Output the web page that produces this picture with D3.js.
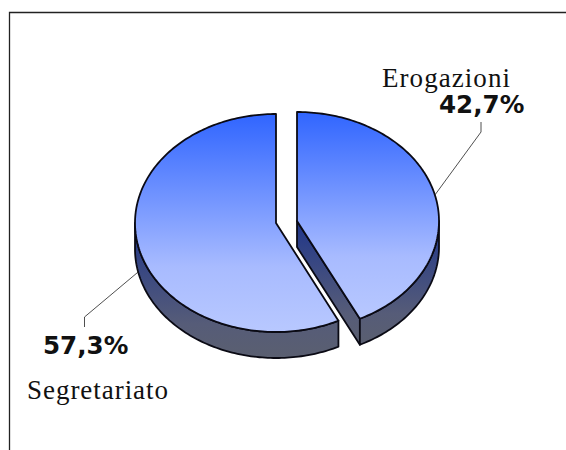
<!DOCTYPE html>
<html>
<head>
<meta charset="utf-8">
<script src="https://cdn.jsdelivr.net/npm/d3@7"></script>
<style>
  html, body { margin: 0; padding: 0; background: #fff; }
  svg { display: block; }
  .name { font-family: "Liberation Serif", serif; font-size: 27px; fill: #111; }
  .pct { font-family: "DejaVu Sans", sans-serif; font-weight: bold; font-size: 24.6px; fill: #111; }
</style>
</head>
<body>
<svg id="chart" width="566" height="450"></svg>
<script>
var categories = ["Erogazioni", "Segretariato"];
var shares = [42.7, 57.3];
var shareLabels = ["42,7%", "57,3%"];

var width = 566, height = 450;
var ry = 109, depth = 26;

// the exploded centre of each slice, unit circle maps through these scales
var centers = [[297, 221], [276, 223]];
var radiiX = [142, 141];
function makeScales(i) {
  var c = centers[i], rx = radiiX[i];
  return {
    x: d3.scaleLinear().domain([-1, 1]).range([c[0] - rx, c[0] + rx]),
    y: d3.scaleLinear().domain([-1, 1]).range([c[1] - ry, c[1] + ry])
  };
}

var svg = d3.select("#chart");
var defs = svg.append("defs");

function gradient(id, stops) {
  var g = defs.append("linearGradient").attr("id", id)
    .attr("x1", 0).attr("y1", 0).attr("x2", 0).attr("y2", 1);
  stops.forEach(function(s) {
    g.append("stop").attr("offset", s[0]).attr("stop-color", s[1]);
  });
}
gradient("topFill", [[0, "#3065ff"], [0.7, "#a8bbff"], [1, "#b8c8ff"]]);
gradient("sideFill", [[0, "#20368a"], [0.75, "#565c78"], [1, "#5a5f70"]]);

var pie = d3.pie().value(function(d) { return d; }).sort(null);
var slices = pie(shares);

var line = d3.line();

// points along the rim between two pie angles (0 = up, clockwise)
function rim(s, a0, a1, dy) {
  var n = Math.max(2, Math.ceil(Math.abs(a1 - a0) / 0.02));
  return d3.range(n + 1).map(function(i) {
    var a = a0 + (a1 - a0) * i / n;
    return [s.x(Math.sin(a)), s.y(-Math.cos(a)) + dy];
  });
}

// frame: top and left only, runs off the page
svg.append("path")
  .attr("d", line([[9.5, height], [9.5, 12.5], [width, 12.5]]))
  .attr("fill", "none").attr("stroke", "#222").attr("stroke-width", 1.3);

function outline(sel) {
  sel.attr("stroke", "#0a0a14").attr("stroke-width", 1.8).attr("stroke-linejoin", "round");
}

slices.forEach(function(d, i) {
  var s = makeScales(i);
  var apex = [s.x(0), s.y(0)];
  var g = svg.append("g").attr("class", "slice");

  // visible part of the outer wall: only where the rim faces down
  var from = Math.max(d.startAngle, Math.PI / 2);
  var to = Math.min(d.endAngle, Math.PI * 1.5);
  var wall = rim(s, from, to, 0).concat(rim(s, to, from, depth));

  // cut face on the right slice, seen through the gap
  if (i === 0) {
    var endPt = rim(s, d.endAngle, d.endAngle, 0)[0];
    g.append("path")
      .attr("d", line([apex, endPt, [endPt[0], endPt[1] + depth], [apex[0], apex[1] + depth]]) + "Z")
      .attr("fill", "url(#sideFill)").call(outline);
  }

  g.append("path")
    .attr("d", line(wall) + "Z")
    .attr("fill", "url(#sideFill)").call(outline);

  // top face
  var top = rim(s, d.startAngle, d.endAngle, 0);
  top.push(apex);
  g.append("path")
    .attr("d", line(top) + "Z")
    .attr("fill", "url(#topFill)").call(outline);
});

// leader lines, anchored on the rim of each slice
var leaderA = rim(makeScales(0), 1.33, 1.33, 0)[0];
var leaderB = rim(makeScales(1), 4.5, 4.5, depth)[0];
svg.append("path")
  .attr("d", line([leaderA, [481, 132], [481, 122]]))
  .attr("fill", "none").attr("stroke", "#222").attr("stroke-width", 0.8);
svg.append("path")
  .attr("d", line([leaderB, [84.5, 317], [84.5, 327]]))
  .attr("fill", "none").attr("stroke", "#222").attr("stroke-width", 0.8);

svg.append("text").attr("class", "name").attr("x", 382).attr("y", 87)
  .attr("textLength", 128).text(categories[0]);
svg.append("text").attr("class", "pct").attr("x", 439).attr("y", 113).text(shareLabels[0]);
svg.append("text").attr("class", "pct").attr("x", 43).attr("y", 354).text(shareLabels[1]);
svg.append("text").attr("class", "name").attr("x", 27).attr("y", 399)
  .attr("textLength", 141).text(categories[1]);
</script>
</body>
</html>
